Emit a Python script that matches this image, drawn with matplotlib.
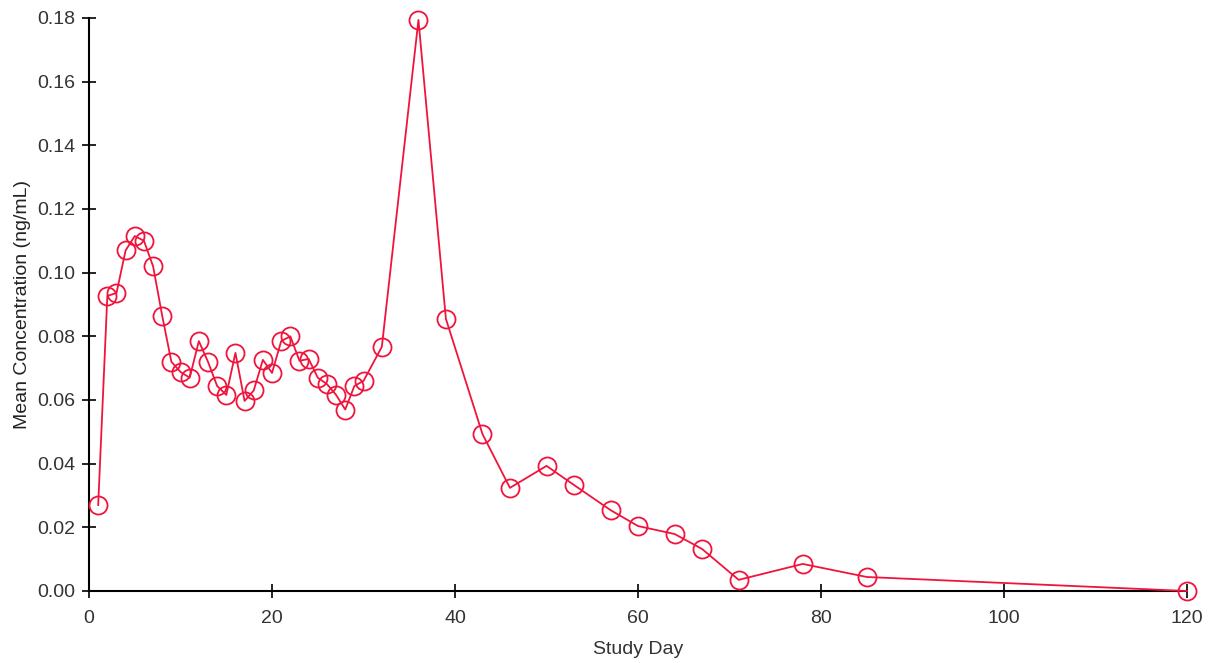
import matplotlib
matplotlib.use('Agg')
from matplotlib import pyplot as plt

# mean concentration by study day
days = [1, 2, 3, 4, 5, 6, 7, 8, 9, 10, 11, 12, 13, 14, 15, 16, 17, 18, 19, 20,
        21, 22, 23, 24, 25, 26, 27, 28, 29, 30, 32, 36, 39, 43, 46, 50, 53, 57,
        60, 64, 67, 71, 78, 85, 120]
conc = [0.027, 0.0927, 0.0936, 0.107, 0.1115, 0.110, 0.102, 0.0864, 0.072,
        0.0688, 0.067, 0.0785, 0.072, 0.0644, 0.0616, 0.0748, 0.0597, 0.063,
        0.0726, 0.0685, 0.0785, 0.080, 0.0723, 0.0729, 0.067, 0.065, 0.0616,
        0.057, 0.0644, 0.066, 0.0767, 0.1794, 0.0855, 0.0493, 0.0324, 0.0393,
        0.0333, 0.0254, 0.0204, 0.0179, 0.0132, 0.0035, 0.0085, 0.0044, 0.0]

xticks = [0, 20, 40, 60, 80, 100, 120]
yticks = [0.00, 0.02, 0.04, 0.06, 0.08, 0.10, 0.12, 0.14, 0.16, 0.18]

plt.rcParams['font.family'] = ['Liberation Sans', 'DejaVu Sans']

fig = plt.figure(figsize=(12.13, 6.63), dpi=100)
ax = fig.add_axes([0.0734, 0.1086, 0.9052, 0.8643])

color = '#F0143C'
ax.plot(days, conc, color=color, linewidth=1.3, marker='o', markersize=13,
        markerfacecolor='none', markeredgecolor=color, markeredgewidth=1.3,
        clip_on=False, zorder=3)

ax.set_xlim(0, 120)
ax.set_ylim(0, 0.18)
ax.set_xticks(xticks)
ax.set_yticks(yticks)
ax.set_yticklabels(['%.2f' % v for v in yticks])

for side in ['top', 'right']:
    ax.spines[side].set_visible(False)
for side in ['left', 'bottom']:
    ax.spines[side].set_linewidth(1.5)
    ax.spines[side].set_color('black')

ax.tick_params(direction='inout', length=10, width=1.2, labelsize=14,
               colors='black', labelcolor='#333333')
ax.tick_params(axis='x', pad=9)
ax.tick_params(axis='y', pad=5)

ax.set_xlabel('Study Day', fontsize=14, color='#333333', labelpad=10)
ax.set_ylabel('Mean Concentration (ng/mL)', fontsize=14, color='#222222',
              labelpad=4)

fig.savefig('out.png', dpi=100)
